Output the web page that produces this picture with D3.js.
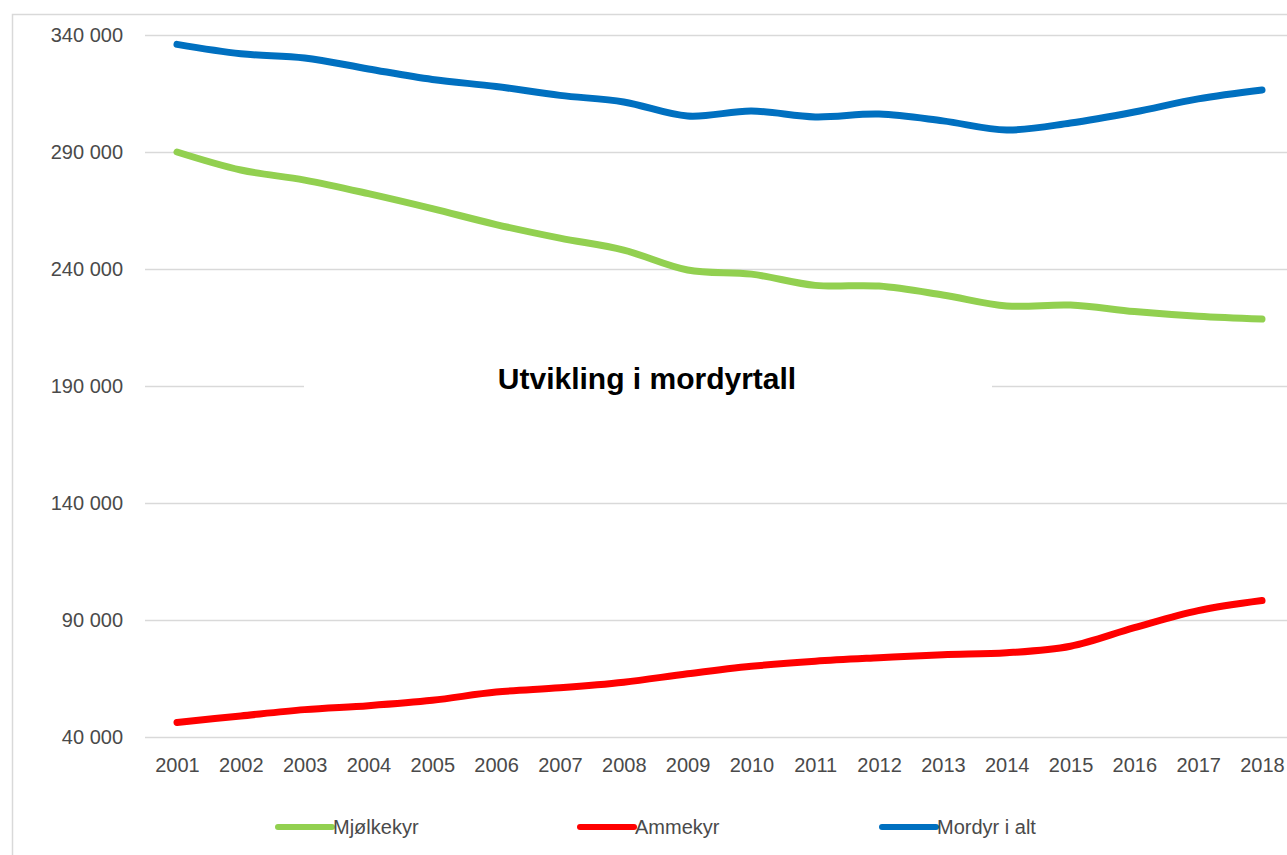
<!DOCTYPE html>
<html>
<head>
<meta charset="utf-8">
<script src="https://cdn.jsdelivr.net/npm/d3@7"></script>
<style>
  html, body { margin: 0; padding: 0; background: #fff; }
  svg { display: block; }
</style>
</head>
<body>
<svg id="chart" width="1287" height="855"></svg>
<script>
// data: number of cows by year
const years = ["2001","2002","2003","2004","2005","2006","2007","2008","2009",
               "2010","2011","2012","2013","2014","2015","2016","2017","2018"];
const mjolkekyr = [290000, 282300, 278000, 272200, 265800, 259000, 253200, 248100, 239600,
                   237800, 233000, 232700, 228900, 224200, 224600, 221800, 219800, 218600];
const ammekyr   = [46200, 49000, 51700, 53400, 55700, 59200, 61000, 63400, 67000,
                   70200, 72400, 73900, 75200, 76000, 78800, 86700, 94000, 98300];
const mordyr    = [336000, 332000, 330200, 325500, 321000, 318000, 314200, 311400, 305400,
                   307500, 305000, 306200, 303300, 299400, 302400, 307100, 312700, 316500];
const yTicks = [40000, 90000, 140000, 190000, 240000, 290000, 340000];
const seriesNames = ["Mjølkekyr", "Ammekyr", "Mordyr i alt"];
const seriesColors = ["#92D050", "#FF0000", "#0070C0"];
const title = "Utvikling i mordyrtall";

const svg = d3.select("#chart");
const W = 1287, H = 855;
const FONT = "'Liberation Sans', Arial, sans-serif";
const textColor = "#4a4a4a";

// chart border (left and top visible)
svg.append("rect")
    .attr("x", 12.5).attr("y", 14.5)
    .attr("width", W + 10).attr("height", H + 10)
    .attr("fill", "#fff").attr("stroke", "#d9d9d9").attr("stroke-width", 1.5);

const x = d3.scalePoint().domain(years).range([177, 1262]);
const y = d3.scaleLinear().domain([40000, 340000]).range([737, 35]);
const fmt = v => d3.format(",")(v).replace(/,/g, " ");

// grid
svg.append("g")
    .attr("transform", "translate(145,0)")
    .call(d3.axisLeft(y).tickValues(yTicks).tickSize(-(W - 145)).tickFormat(""))
    .call(g => g.select(".domain").remove())
    .call(g => g.selectAll("line").attr("stroke", "#d9d9d9").attr("stroke-width", 1.5));

// y labels
svg.append("g")
    .attr("transform", "translate(123,0)")
    .call(d3.axisLeft(y).tickValues(yTicks).tickSize(0).tickPadding(0).tickFormat(fmt))
    .call(g => g.select(".domain").remove())
    .call(g => g.selectAll("text")
        .attr("fill", textColor).attr("font-size", 20).attr("font-family", FONT));

// x labels
svg.append("g")
    .attr("transform", "translate(0,758)")
    .call(d3.axisBottom(x).tickSize(0).tickPadding(0))
    .call(g => g.select(".domain").remove())
    .call(g => g.selectAll("text")
        .attr("fill", textColor).attr("font-size", 20).attr("font-family", FONT));

// title box + title
svg.append("rect")
    .attr("x", 304).attr("y", 362).attr("width", 688).attr("height", 40)
    .attr("fill", "#fff");
svg.append("text")
    .attr("x", 647).attr("y", 389)
    .attr("text-anchor", "middle")
    .attr("font-family", FONT).attr("font-weight", "bold").attr("font-size", 30)
    .attr("fill", "#000")
    .text(title);

// lines
const line = d3.line()
    .x((d, i) => x(years[i]))
    .y(d => y(d))
    .curve(d3.curveCatmullRom.alpha(0.5));

[mjolkekyr, ammekyr, mordyr].forEach((vals, i) => {
    svg.append("path")
        .datum(vals)
        .attr("d", line)
        .attr("fill", "none")
        .attr("stroke", seriesColors[i])
        .attr("stroke-width", 7)
        .attr("stroke-linecap", "round")
        .attr("stroke-linejoin", "round");
});

// legend
const legendX = [278, 580, 882];
seriesNames.forEach((name, i) => {
    const lg = svg.append("g").attr("transform", `translate(${legendX[i]},827)`);
    lg.append("line")
        .attr("x1", 0).attr("x2", 54).attr("y1", 0).attr("y2", 0)
        .attr("stroke", seriesColors[i]).attr("stroke-width", 6)
        .attr("stroke-linecap", "round");
    lg.append("text")
        .attr("x", 55).attr("y", 7)
        .attr("fill", textColor).attr("font-size", 20).attr("font-family", FONT)
        .text(name);
});
</script>
</body>
</html>
